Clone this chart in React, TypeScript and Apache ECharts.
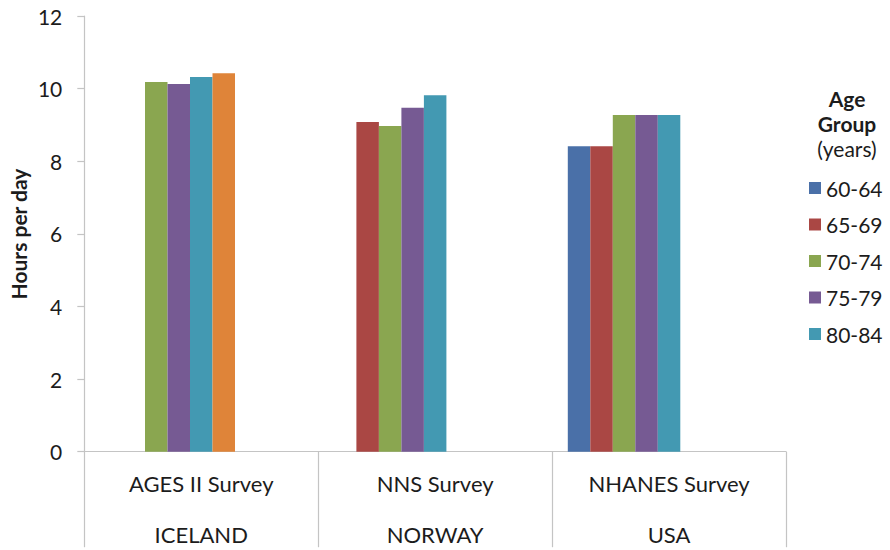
import { useEffect, useRef } from "react";
import * as echarts from "echarts";

// Survey (first label line) and country (second label line) per category
const surveys = ["AGES II Survey", "NNS Survey", "NHANES Survey"];
const countries = ["ICELAND", "NORWAY", "USA"];

// Age groups shown in the legend, plus the extra 85-89 group used in Iceland
const ageGroups = ["60-64", "65-69", "70-74", "75-79", "80-84"];
const extraGroup = "85-89";

// Hours per day, one value per survey (null = not reported)
const hours60to64 = [null, null, 8.41];
const hours65to69 = [null, 9.08, 8.41];
const hours70to74 = [10.18, 8.97, 9.27];
const hours75to79 = [10.13, 9.47, 9.27];
const hours80to84 = [10.32, 9.82, 9.27];
const hours85to89 = [10.42, null, null];

const yTicks = { min: 0, max: 12, interval: 2 };

const palette = ["#4A70A8", "#AA4744", "#8AA650", "#765A93", "#4399B2", "#DF8439"];
const FONT = "Lato, 'Open Sans', sans-serif";
const TEXT = "#1c1c1c";
const AXIS = "#c4c4c4";

export default function App() {
  const ref = useRef<HTMLDivElement>(null);

  useEffect(() => {
    if (!ref.current) return;
    const chart = echarts.init(ref.current, undefined, { renderer: "svg" });

    const values = [hours60to64, hours65to69, hours70to74, hours75to79, hours80to84, hours85to89];
    const names = [...ageGroups, extraGroup];

    const barSeries: any[] = values.map((data, i) => ({
      name: names[i],
      type: "bar",
      data,
      barWidth: 22.5,
      barGap: "0%",
      itemStyle: { color: palette[i] },
    }));
    // empty slots that keep each survey's bars toward the left of its category
    for (let k = 0; k < 3; k++) {
      barSeries.push({
        name: `slot-${k}`,
        type: "bar",
        data: [],
        barWidth: 22.5,
        barGap: "0%",
        silent: true,
      });
    }

    chart.setOption({
      animation: false,
      textStyle: { fontFamily: FONT },
      grid: {
        left: 84.3,
        right: 104,
        top: 16,
        bottom: 98.3,
        containLabel: false,
        outerBoundsMode: "none",
      },
      legend: {
        data: ageGroups,
        orient: "vertical",
        left: 804,
        top: 172,
        itemWidth: 12,
        itemHeight: 12,
        itemGap: 14.5,
        icon: "rect",
        selectedMode: false,
        textStyle: { fontFamily: FONT, fontSize: 21, color: TEXT, lineHeight: 22 },
      },
      xAxis: {
        type: "category",
        data: surveys.map((s, i) => `${s}\n${countries[i]}`),
        axisLine: { show: true, lineStyle: { color: AXIS, width: 1.2 } },
        axisTick: { show: true, interval: 0, length: 95.5, lineStyle: { color: AXIS, width: 1.2 } },
        axisLabel: {
          interval: 0,
          margin: 6,
          fontFamily: FONT,
          fontSize: 22,
          lineHeight: 51,
          color: TEXT,
        },
      },
      yAxis: {
        type: "value",
        min: yTicks.min,
        max: yTicks.max,
        interval: yTicks.interval,
        splitLine: { show: false },
        axisLine: { show: true, lineStyle: { color: AXIS, width: 1.2 } },
        axisTick: { show: true, length: 7, lineStyle: { color: AXIS, width: 1.2 } },
        axisLabel: { margin: 22, fontFamily: FONT, fontSize: 21, color: TEXT },
      },
      graphic: [
        {
          type: "text",
          x: 18,
          y: 234,
          rotation: Math.PI / 2,
          style: {
            text: "Hours per day",
            fontFamily: FONT,
            fontSize: 21,
            fontWeight: "bold",
            fill: TEXT,
            align: "center",
            verticalAlign: "middle",
          },
        },
        {
          type: "text",
          x: 847,
          y: 98,
          style: { text: "Age", fontFamily: FONT, fontSize: 21, fontWeight: "bold", fill: TEXT, align: "center", verticalAlign: "middle" },
        },
        {
          type: "text",
          x: 847,
          y: 123,
          style: { text: "Group", fontFamily: FONT, fontSize: 21, fontWeight: "bold", fill: TEXT, align: "center", verticalAlign: "middle" },
        },
        {
          type: "text",
          x: 847,
          y: 148,
          style: { text: "(years)", fontFamily: FONT, fontSize: 21, fill: TEXT, align: "center", verticalAlign: "middle" },
        },
      ],
      series: barSeries,
    });

    return () => chart.dispose();
  }, []);

  return (
    <div
      ref={ref}
      style={{ position: "absolute", left: 0, top: 0, width: 890, height: 550, background: "#fff" }}
    />
  );
}
